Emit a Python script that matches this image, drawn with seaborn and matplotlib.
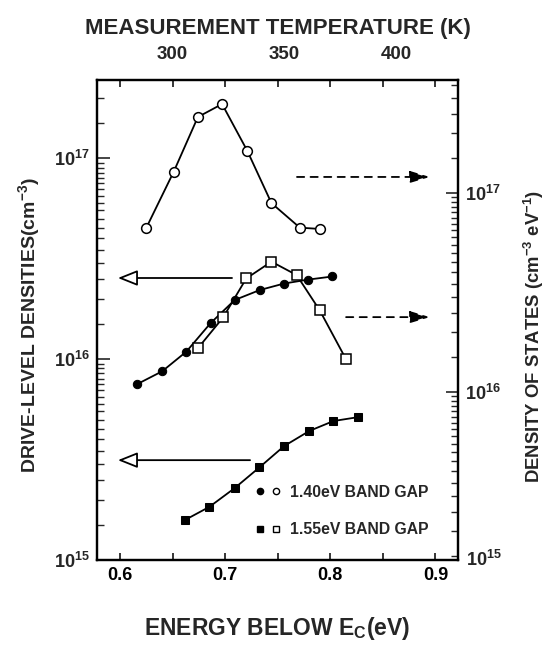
import numpy as np
import pandas as pd
import matplotlib
matplotlib.use("Agg")
import matplotlib.pyplot as plt
import seaborn as sns
from matplotlib.ticker import LogLocator, FixedLocator, NullFormatter, MultipleLocator, LogFormatterSciNotation
from matplotlib.legend_handler import HandlerTuple
from matplotlib.lines import Line2D

sns.set_theme(style="ticks")
plt.rcParams["font.family"] = ["Liberation Sans", "DejaVu Sans"]
plt.rcParams["font.weight"] = "bold"
plt.rcParams["mathtext.fontset"] = "custom"
plt.rcParams["mathtext.rm"] = "Liberation Sans:bold"
plt.rcParams["mathtext.bf"] = "Liberation Sans:bold"
plt.rcParams["mathtext.it"] = "Liberation Sans:bold"
plt.rcParams["mathtext.sf"] = "Liberation Sans:bold"

# ---------------- data ----------------
# 1.40 eV band gap, drive-level densities (left axis, filled circles)
e_140_dld = [0.616, 0.640, 0.663, 0.686, 0.709, 0.733, 0.756, 0.779, 0.802]
n_140_dld = [7.5e15, 8.7e15, 1.09e16, 1.51e16, 1.97e16, 2.21e16, 2.38e16, 2.49e16, 2.58e16]
# 1.40 eV band gap, density of states (right axis, open circles)
e_140_dos = [0.625, 0.651, 0.674, 0.697, 0.721, 0.744, 0.771, 0.790]
n_140_dos = [6.7e16, 1.28e17, 2.41e17, 2.80e17, 1.63e17, 8.9e16, 6.7e16, 6.6e16]
# 1.55 eV band gap, drive-level densities (left axis, filled squares)
e_155_dld = [0.6615, 0.685, 0.709, 0.7325, 0.756, 0.780, 0.803, 0.826]
n_155_dld = [1.58e15, 1.84e15, 2.28e15, 2.89e15, 3.69e15, 4.39e15, 4.92e15, 5.14e15]
# 1.55 eV band gap, density of states (right axis, open squares)
e_155_dos = [0.674, 0.698, 0.720, 0.744, 0.768, 0.790, 0.815]
n_155_dos = [1.66e16, 2.37e16, 3.72e16, 4.52e16, 3.87e16, 2.57e16, 1.46e16]

x_ticks = [0.6, 0.7, 0.8, 0.9]
temp_ticks = [300, 350, 400]
legend_labels = ["1.40eV BAND GAP", "1.55eV BAND GAP"]

# ---------------- figure ----------------
W, H = 552, 648
fig = plt.figure(figsize=(W / 100, H / 100), dpi=100)
L, R, T, B = 97, 458, 80, 560
ax = fig.add_axes([L / W, 1 - B / H, (R - L) / W, (B - T) / H])
ax2 = ax.twinx()

ax.set_yscale("log")
ax2.set_yscale("log")
ax.set_xlim(0.578, 0.9215)
ax.set_ylim(1e15, 10 ** 17.39)
ax2.set_ylim(10 ** 15.156, 10 ** 17.568)

lw = 1.3
sns.lineplot(x=e_140_dld, y=n_140_dld, ax=ax, color="black", lw=lw, marker="o",
             markersize=6, markerfacecolor="black", markeredgecolor="black", sort=False)
sns.lineplot(x=e_155_dld, y=n_155_dld, ax=ax, color="black", lw=lw, marker="s",
             markersize=6, markerfacecolor="black", markeredgecolor="black", sort=False)
sns.lineplot(x=e_140_dos, y=n_140_dos, ax=ax2, color="black", lw=lw, marker="o",
             markersize=7, markerfacecolor="white", markeredgecolor="black", markeredgewidth=1.1, sort=False)
sns.lineplot(x=e_155_dos, y=n_155_dos, ax=ax2, color="black", lw=lw, marker="s",
             markersize=7, markerfacecolor="white", markeredgecolor="black", markeredgewidth=1.1, sort=False)

# ---------------- axes styling ----------------
for a in (ax, ax2):
    for s in a.spines.values():
        s.set_linewidth(1.6)
        s.set_color("black")

tfs = 13
ax.xaxis.set_major_locator(FixedLocator(x_ticks))
ax.xaxis.set_minor_locator(MultipleLocator(0.05))
ax.tick_params(axis="x", which="both", direction="in", top=True, length=5, width=1.1,
               labelsize=tfs, pad=5, colors="black")
ax.tick_params(axis="y", which="major", direction="in", length=9, width=1.2, labelsize=tfs, pad=5)
ax.tick_params(axis="y", which="minor", direction="in", length=5, width=1.0)
ax2.tick_params(axis="y", which="major", direction="in", length=9, width=1.2, labelsize=tfs, pad=5)
ax2.tick_params(axis="y", which="minor", direction="in", length=5, width=1.0)

subs = np.arange(1.5, 10, 0.5)
ax.yaxis.set_major_locator(LogLocator(base=10, numticks=10))
ax.yaxis.set_minor_locator(LogLocator(base=10, subs=subs, numticks=40))
ax.yaxis.set_minor_formatter(NullFormatter())
ax2.yaxis.set_major_locator(FixedLocator([1e16, 1e17]))
ax2.yaxis.set_major_formatter(LogFormatterSciNotation())
ax2.yaxis.set_minor_locator(LogLocator(base=10, subs=subs, numticks=40))
ax2.yaxis.set_minor_formatter(NullFormatter())
ax2.text(1.022, 0.0, r"$10^{15}$", transform=ax2.transAxes, fontsize=tfs,
         ha="left", va="center")

# top temperature axis
e300, e400 = 0.6492, 0.8630
def e2t(e):
    return 300 + (np.asarray(e) - e300) * 100 / (e400 - e300)
def t2e(t):
    return e300 + (np.asarray(t) - 300) * (e400 - e300) / 100
sec = ax.secondary_xaxis("top", functions=(e2t, t2e))
sec.set_xticks(temp_ticks)
sec.tick_params(axis="x", length=0, labelsize=13.5, pad=12)
sec.spines["top"].set_visible(False)
sec.set_xlabel("MEASUREMENT TEMPERATURE (K)", fontsize=16, labelpad=9, fontweight="bold")

ax.set_xlabel(r"ENERGY BELOW E$_{\mathrm{C}}$(eV)", fontsize=16.5, fontweight="bold")
ax.xaxis.set_label_coords(0.5, -0.115)
ax.set_ylabel(r"DRIVE-LEVEL DENSITIES(cm$^{-3}$)", fontsize=14, fontweight="bold")
ax.yaxis.set_label_coords(-0.152, 0.49)
ax2.set_ylabel(r"DENSITY OF STATES (cm$^{-3}$ eV$^{-1}$)", fontsize=13.3, fontweight="bold",
               rotation=90)
ax2.yaxis.set_label_coords(1.177, 0.465)

# ---------------- arrows ----------------
open_head = dict(arrowstyle="-|>,head_length=1.0,head_width=0.4", color="black",
                 lw=1.3, fc="white", shrinkA=0, shrinkB=0)
dash_head = dict(arrowstyle="-|>,head_length=1.0,head_width=0.3", color="black",
                 lw=1.3, fc="black", ls=(0, (4, 3.5)), shrinkA=0, shrinkB=0)
ax.annotate("", xy=(0.058, 0.5875), xytext=(0.374, 0.5875), xycoords="axes fraction",
            arrowprops=open_head)
ax.annotate("", xy=(0.058, 0.208), xytext=(0.424, 0.208), xycoords="axes fraction",
            arrowprops=open_head)
ax.annotate("", xy=(0.922, 0.798), xytext=(0.554, 0.798), xycoords="axes fraction",
            arrowprops=dash_head)
ax.annotate("", xy=(0.922, 0.506), xytext=(0.69, 0.506), xycoords="axes fraction",
            arrowprops=dash_head)

# ---------------- legend ----------------
h1 = (Line2D([], [], ls="", marker="o", ms=4.5, mfc="black", mec="black"),
      Line2D([], [], ls="", marker="o", ms=4.5, mfc="white", mec="black"))
h2 = (Line2D([], [], ls="", marker="s", ms=4.5, mfc="black", mec="black"),
      Line2D([], [], ls="", marker="s", ms=4.5, mfc="white", mec="black"))
leg = ax.legend([h1, h2], legend_labels, handler_map={tuple: HandlerTuple(ndivide=None, pad=0.2)},
                loc="center left", bbox_to_anchor=(0.435, 0.102), frameon=False,
                fontsize=11.3, handlelength=1.8, handletextpad=0.5, labelspacing=1.42,
                borderpad=0, borderaxespad=0)

fig.savefig("out.png", dpi=100)
